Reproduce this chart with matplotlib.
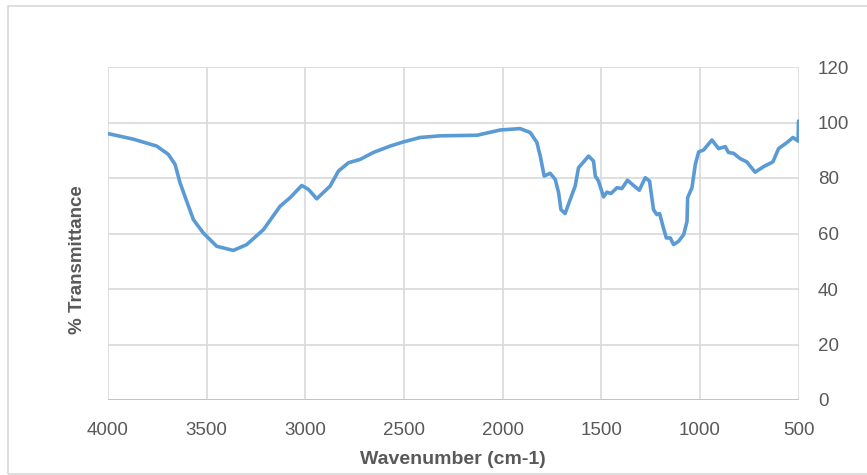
import numpy as np
import matplotlib
matplotlib.use("Agg")
import matplotlib.pyplot as plt
from matplotlib.patches import Rectangle

# IR spectrum (wavenumber cm-1, % transmittance)
wavenumber = [4000, 3872, 3753, 3694, 3660, 3635, 3601, 3567, 3517, 3449,
              3365, 3297, 3212, 3128, 3077, 3018, 2984, 2942, 2874, 2832,
              2781, 2722, 2655, 2570, 2503, 2418, 2316, 2130, 2012, 1911,
              1860, 1826, 1809, 1789, 1759, 1733, 1716, 1704, 1683, 1657,
              1632, 1615, 1564, 1539, 1530, 1514, 1488, 1471, 1451, 1420,
              1395, 1367, 1336, 1307, 1277, 1255, 1235, 1218, 1204, 1187,
              1170, 1150, 1133, 1108, 1082, 1065, 1062, 1040, 1023, 1006,
              981, 939, 905, 871, 855, 829, 796, 762, 720, 677,
              630, 601, 558, 528, 502, 500]
transmittance = [96.0, 94.0, 91.5, 88.5, 84.9, 78.3, 71.6, 65.0, 60.2, 55.4,
                 53.9, 56.0, 61.4, 69.8, 72.9, 77.3, 75.9, 72.5, 77.1, 82.5,
                 85.5, 86.7, 89.2, 91.5, 93.0, 94.6, 95.2, 95.4, 97.3, 97.8,
                 96.4, 92.8, 87.9, 80.7, 81.7, 79.5, 74.7, 68.6, 67.2, 72.3,
                 77.1, 83.7, 87.9, 86.1, 80.7, 78.9, 73.2, 74.9, 74.4, 76.5,
                 76.2, 79.2, 77.3, 75.6, 80.1, 78.9, 68.6, 66.8, 67.2, 62.6,
                 58.4, 58.4, 56.0, 57.2, 59.6, 64.4, 72.9, 76.5, 84.9, 89.4,
                 90.1, 93.7, 90.6, 91.3, 89.2, 88.9, 87.0, 85.8, 82.1, 84.1,
                 85.8, 90.6, 92.8, 94.6, 93.3, 100.5]

xticks = [4000, 3500, 3000, 2500, 2000, 1500, 1000, 500]
yticks = [0, 20, 40, 60, 80, 100, 120]

plt.rcParams['font.family'] = ['Liberation Sans', 'DejaVu Sans']
txtcol = '#595959'
gridcol = '#d9d9d9'

fig = plt.figure(figsize=(8.67, 4.75), dpi=100)
ax = fig.add_axes([108/867, 1-400/475, 690.5/867, 333/475])

ax.plot(wavenumber, transmittance, color='#5b9bd5', lw=2.6,
        solid_joinstyle='round', solid_capstyle='round', zorder=3)

ax.set_xlim(4000, 500)
ax.set_ylim(0, 120)
ax.set_xticks(xticks)
ax.set_yticks(yticks)
ax.grid(True, color=gridcol, lw=1.2)
ax.set_axisbelow(True)
for s in ax.spines.values():
    s.set_visible(False)
ax.axhline(0, color='#bfbfbf', lw=1.2, zorder=2)

ax.yaxis.tick_right()
ax.tick_params(axis='x', length=0, pad=16, labelsize=13.5, colors=txtcol)
ax.tick_params(axis='y', length=0, pad=14, labelsize=13.5, colors=txtcol)
for lab in ax.get_yticklabels():
    lab.set_horizontalalignment('left')

fig.text(453/867, 1-459/475, 'Wavenumber (cm-1)', ha='center', va='center',
         fontsize=14, fontweight='bold', color=txtcol)
fig.text(78/867, 1-260/475, '% Transmittance', ha='center', va='center',
         rotation=90, fontsize=13.5, fontweight='bold', color=txtcol)

# chart area border
fig.patches.append(Rectangle((8/867, 1-474/475), 1.0, 468/475,
                             transform=fig.transFigure, fill=False,
                             edgecolor=gridcol, lw=1.2))

fig.savefig('out.png', dpi=100)
